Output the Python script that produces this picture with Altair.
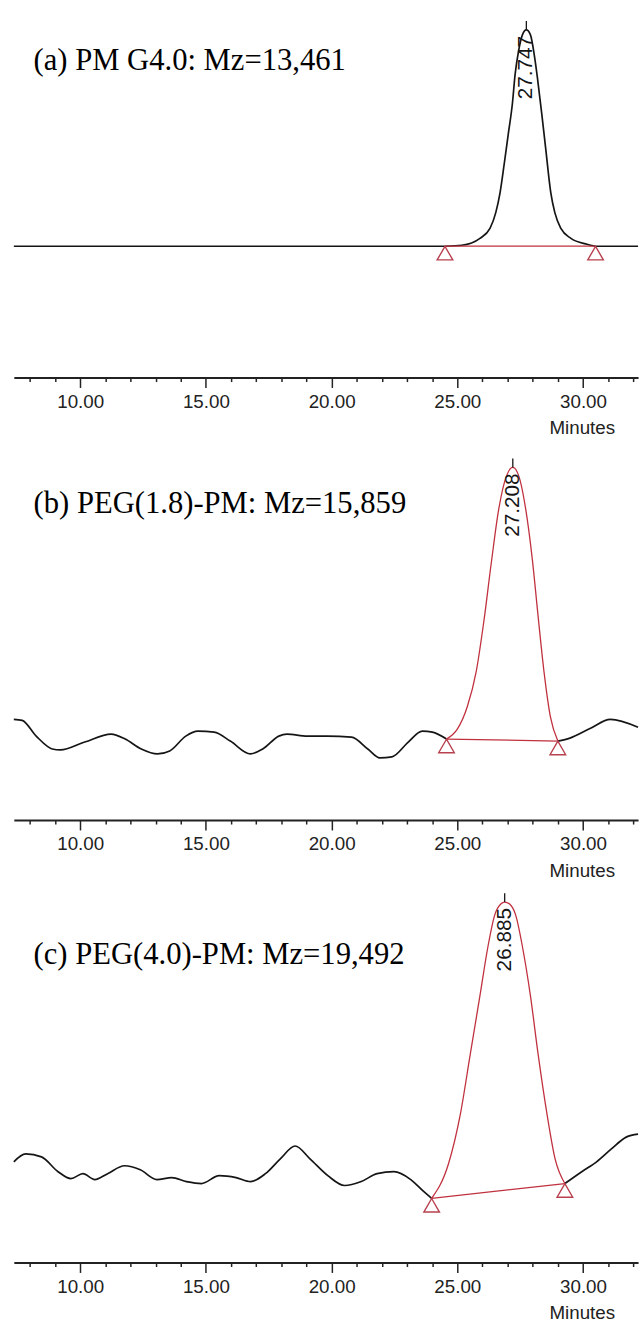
import altair as alt
import pandas as pd

# ---------------- data ----------------
TITLES = ["(a) PM G4.0: Mz=13,461",
          "(b) PEG(1.8)-PM: Mz=15,859",
          "(c) PEG(4.0)-PM: Mz=19,492"]
RT = [27.747, 27.208, 26.885]
RT_LABELS = ["27.747", "27.208", "26.885"]
PEAK_START = [24.51, 24.57, 23.98]
PEAK_END = [30.50, 29.00, 29.28]
PEAK_RED = [False, True, True]

# panel (a) trace (minutes, signal)
A_TIME = [7.36, 24.51, 25.18, 25.90, 26.30, 26.53, 26.70, 26.87, 27.03, 27.19, 27.30,
          27.44, 27.59, 27.747, 27.91, 28.06, 28.20, 28.36, 28.52, 28.72, 28.88, 29.12,
          29.52, 30.16, 30.50, 32.19]
A_SIGNAL = [133, 133, 134, 141, 151, 167, 187, 217, 247, 277, 307,
            331, 347, 352, 347, 327, 301, 267, 231, 187, 167, 151,
            141, 135, 133, 133]

# panel (b) trace
B_TIME = [7.36, 7.69, 8.25, 8.89, 9.21, 10.18, 11.23, 11.79, 12.43, 13.07, 13.56, 14.20,
          14.68, 15.33, 15.97, 16.77, 17.26, 17.90, 18.22, 19.03, 19.83, 20.79, 21.44,
          21.92, 22.40, 23.05, 23.61, 24.01, 24.57,
          25.00, 25.40, 25.75, 26.05, 26.35, 26.65, 26.95, 27.208, 27.45, 27.72, 27.98,
          28.22, 28.45, 28.70, 29.00,
          29.48, 30.30, 31.09, 32.19]
B_SIGNAL = [102, 101, 85, 72, 71, 79, 87, 82, 72, 67, 70, 85,
            90, 89, 80, 67, 72, 85, 87, 85, 85, 84, 72,
            63, 64, 79, 90, 89, 82,
            92, 115, 150, 200, 260, 315, 348, 357, 348, 315, 265,
            205, 150, 105, 80,
            83, 93, 102, 94]

# panel (c) trace
C_TIME = [7.36, 7.83, 8.46, 9.12, 9.63, 10.11, 10.58, 11.09, 11.76, 12.39, 13.05, 13.64,
          14.23, 14.82, 15.53, 16.20, 16.78, 17.37, 17.96, 18.55, 19.14, 19.85, 20.52,
          21.18, 21.81, 22.48, 23.15, 23.66, 23.98,
          24.65, 25.12, 25.51, 25.90, 26.22, 26.49, 26.73, 26.885, 27.08, 27.32, 27.59,
          27.91, 28.22, 28.57, 28.89, 29.28,
          29.95, 30.54, 31.13, 31.72, 32.19]
C_SIGNAL = [102, 110, 107, 92, 85, 90, 84, 90, 98, 94, 84, 86,
            82, 80, 88, 86, 82, 90, 105, 118, 105, 88, 78,
            82, 90, 92, 84, 72, 65,
            100, 150, 210, 270, 320, 352, 363, 365, 363, 352, 320,
            270, 210, 150, 105, 80,
            92, 102, 115, 127, 130]

TICK_MINUTES = list(range(8, 33))
X_DOMAIN = [7.36, 32.19]
Y_DOMAIN = [0, 374]

# ---------------- styles ----------------
BLACK = "#151515"
RED = "#c0303e"
TRI = "#b8404f"
TITLE_Y = [63, 63, 72]
PANEL_W = 632
PANEL_H = 374

xscale = alt.Scale(domain=X_DOMAIN, nice=False, zero=False)
yscale = alt.Scale(domain=Y_DOMAIN, nice=False, zero=False)

axis = alt.Axis(
    values=TICK_MINUTES,
    labelExpr="datum.value % 5 === 0 ? format(datum.value, '.2f') : ''",
    tickSize={"condition": {"test": "datum.value % 5 === 0", "value": 10}, "value": 4},
    tickWidth=1.5, tickColor="#222",
    domainColor="#222", domainWidth=2,
    labelFont="Liberation Sans", labelFontSize=19, labelColor="#222",
    labelPadding=5, labelOverlap=False, labelFlush=False, labelBound=False,
    title="Minutes", titleFont="Liberation Sans", titleFontSize=19,
    titleFontWeight="normal", titleColor="#222",
    titleX=575, titleY=42, titleAlign="center", titleBaseline="top",
    grid=False,
)

X = alt.X("time:Q", scale=xscale, axis=axis)
Y = alt.Y("signal:Q", scale=yscale, axis=None)


def make_panel(i, times, sigs):
    start, end = PEAK_START[i], PEAK_END[i]
    rows = []
    for t, s in zip(times, sigs):
        if t <= start:
            rows.append((t, s, "pre"))
        if start <= t <= end:
            rows.append((t, s, "peak"))
        if t >= end:
            rows.append((t, s, "post"))
    trace = pd.DataFrame(rows, columns=["time", "signal", "seg"])
    base_part = trace[trace.seg != "peak"]
    peak_part = trace[trace.seg == "peak"]

    s_start = trace[trace.time == start].signal.iloc[0]
    s_end = trace[trace.time == end].signal.iloc[0]
    apex = trace[trace.time == RT[i]].signal.iloc[0]

    ends = pd.DataFrame({"time": [start, end], "signal": [s_start, s_end]})
    peak = pd.DataFrame({"time": [RT[i]], "signal": [apex], "label": [RT_LABELS[i]]})
    ttl = pd.DataFrame({"t": [TITLES[i]]})

    peak_color = RED if PEAK_RED[i] else BLACK

    line_base = alt.Chart(base_part).mark_line(
        strokeWidth=1.7, interpolate="monotone", color=BLACK).encode(
        x=X, y=Y, detail="seg:N")
    line_peak = alt.Chart(peak_part).mark_line(
        strokeWidth=1.7 if not PEAK_RED[i] else 1.3, interpolate="monotone",
        color=peak_color).encode(x=X, y=Y)
    base = alt.Chart(ends).mark_line(color=RED, strokeWidth=1.3).encode(x=X, y=Y)
    tris = alt.Chart(ends).mark_point(shape="triangle-up", filled=False, size=250,
                                      strokeWidth=1.4, color=TRI, yOffset=7,
                                      opacity=1).encode(x=X, y=Y)
    marker = alt.Chart(peak).mark_rule(color=BLACK, strokeWidth=1.3, y2Offset=-9).encode(
        x=X, y=Y, y2=alt.Y2("signal:Q"))
    label = alt.Chart(peak).mark_text(angle=270, align="right", baseline="middle",
                                      font="Liberation Sans", fontSize=21, color=BLACK,
                                      yOffset=6).encode(x=X, y=Y, text="label:N")
    title = alt.Chart(ttl).mark_text(align="left", baseline="alphabetic",
                                     font="Liberation Serif", fontSize=31,
                                     color="black").encode(
        x=alt.value(20), y=alt.value(TITLE_Y[i]), text="t:N")
    return alt.layer(line_base, line_peak, base, tris, marker, label, title).properties(
        width=PANEL_W, height=PANEL_H)


panels = [make_panel(0, A_TIME, A_SIGNAL),
          make_panel(1, B_TIME, B_SIGNAL),
          make_panel(2, C_TIME, C_SIGNAL)]

chart = alt.vconcat(*panels, spacing=74, bounds="flush").properties(
    padding={"left": 10, "top": 0, "right": 0, "bottom": 0},
    background="white",
).configure_view(stroke=None)

chart.save("out.html", embed_options={"renderer": "svg", "actions": False})
